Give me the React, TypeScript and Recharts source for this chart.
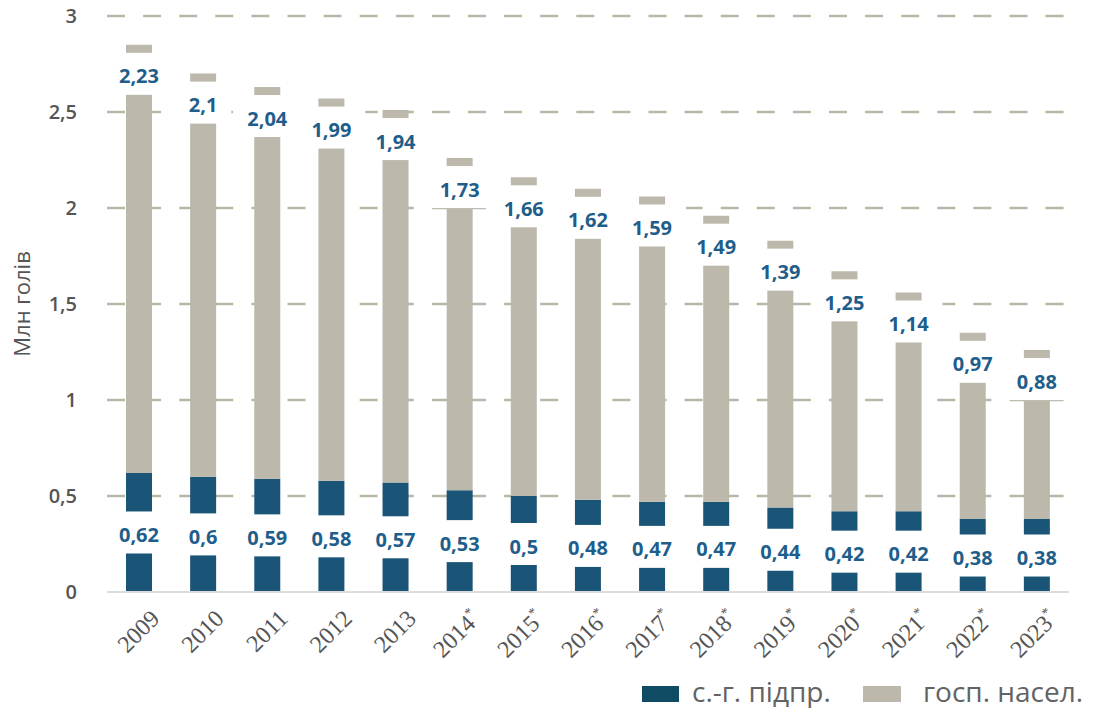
import React from 'react';
import { BarChart, Bar, XAxis, YAxis, CartesianGrid, LabelList, Label } from 'recharts';

const years = ['2009', '2010', '2011', '2012', '2013', '2014', '2015', '2016', '2017', '2018', '2019', '2020', '2021', '2022', '2023'];
const starred = [false, false, false, false, false, true, true, true, true, true, true, true, true, true, true];
const enterprises = [0.62, 0.6, 0.59, 0.58, 0.57, 0.53, 0.5, 0.48, 0.47, 0.47, 0.44, 0.42, 0.42, 0.38, 0.38];
const households = [2.23, 2.1, 2.04, 1.99, 1.94, 1.73, 1.66, 1.62, 1.59, 1.49, 1.39, 1.25, 1.14, 0.97, 0.88];
const yTicks = [0, 0.5, 1, 1.5, 2, 2.5, 3];

const data = years.map((y, i) => ({
  year: y,
  star: starred[i],
  ent: enterprises[i],
  hh: households[i],
}));

const BLUE = '#1a5577';
const LEGEND_BLUE = '#0f4b63';
const GRAY = '#bcb8ab';
const GRID = '#b9b8a6';
const LABEL_BLUE = '#1f5e8a';
const FONT = '"Open Sans", "Noto Sans", sans-serif';
const SERIF = '"Liberation Serif", "DejaVu Serif", serif';

const fmt = (v: number) => String(v).replace('.', ',');
const textWidth = (s: string) => {
  let w = 0;
  for (const c of s) w += c === ',' ? 5.6 : 11.4;
  return w;
};

const ValueBox = ({ cx, cy, text }: { cx: number; cy: number; text: string }) => {
  const w = textWidth(text) + 28;
  const h = 42;
  return (
    <g>
      <rect x={cx - w / 2} y={cy - h / 2} width={w} height={h} fill="#ffffff" />
      <text
        x={cx}
        y={cy + 2}
        textAnchor="middle"
        dominantBaseline="central"
        fontFamily={FONT}
        fontWeight={700}
        fontSize={20}
        fill={LABEL_BLUE}
        stroke="#ffffff"
        strokeWidth={1}
        paintOrder="stroke"
      >
        {text}
      </text>
    </g>
  );
};

const EntLabel = (props: any) => {
  const { x, y, width, height, value } = props;
  const cx = Number(x) + Number(width) / 2;
  const cy = Number(y) + Number(height) / 2;
  return <ValueBox cx={cx} cy={cy} text={fmt(value)} />;
};

const HhLabel = (props: any) => {
  const { x, y, width, value } = props;
  const cx = Number(x) + Number(width) / 2;
  const cy = Number(y) + 8 + 21;
  return <ValueBox cx={cx} cy={cy} text={fmt(value)} />;
};

const XTick = (props: any) => {
  const { x, y, payload, index } = props;
  const star = starred[index] ?? false;
  return (
    <g transform={`translate(${x + 22},${y + 20})`}>
      <text
        textAnchor="end"
        transform="rotate(-45)"
        fontFamily={SERIF}
        fontSize={24}
        fill="#555555"
      >
        {payload.value}
        {star ? (
          <tspan fontSize={14} dy={-10}>
            *
          </tspan>
        ) : null}
      </text>
    </g>
  );
};

const YTick = (props: any) => {
  const { x, y, payload } = props;
  return (
    <text
      x={x}
      y={y}
      dy="0.36em"
      textAnchor="end"
      fontFamily={FONT}
      fontWeight={600}
      fontSize={20}
      fill="#555555"
    >
      {fmt(payload.value)}
    </text>
  );
};

export default function App() {
  return (
    <div style={{ position: 'absolute', left: 0, top: 0, width: 1098, height: 708, background: '#fff' }}>
      <BarChart
        width={1098}
        height={708}
        data={data}
        margin={{ top: 16, right: 29, left: 0, bottom: 0 }}
      >
        <CartesianGrid
          vertical={false}
          horizontalValues={[0.5, 1, 1.5, 2, 2.5, 3]}
          stroke={GRID}
          strokeWidth={2.5}
          strokeDasharray="18 18.1"
        />
        <XAxis
          dataKey="year"
          height={116}
          interval={0}
          axisLine={{ stroke: '#dcdcdc', strokeWidth: 2 }}
          tickLine={false}
          tick={<XTick />}
        />
        <YAxis
          width={107}
          domain={[0, 3]}
          ticks={yTicks}
          axisLine={false}
          tickLine={false}
          tickSize={0}
          tickMargin={30}
          tick={<YTick />}
        >
          <Label
            value="Млн голів"
            angle={-90}
            position="insideLeft"
            offset={22}
            style={{ fontFamily: FONT, fontSize: 22, fill: '#555555', textAnchor: 'middle' }}
          />
        </YAxis>
        <Bar dataKey="ent" stackId="a" fill={BLUE} barSize={26} isAnimationActive={false}>
          <LabelList dataKey="ent" content={<EntLabel />} />
        </Bar>
        <Bar dataKey="hh" stackId="a" fill={GRAY} barSize={26} isAnimationActive={false}>
          <LabelList dataKey="hh" content={<HhLabel />} />
        </Bar>
      </BarChart>
      <div style={{ position: 'absolute', left: 642, top: 686, width: 37, height: 16, background: LEGEND_BLUE }} />
      <div
        style={{
          position: 'absolute',
          left: 692,
          top: 672,
          fontFamily: FONT,
          fontSize: 28,
          lineHeight: '38px',
          color: '#636363',
          whiteSpace: 'nowrap',
        }}
      >
        с.-г. підпр.
      </div>
      <div style={{ position: 'absolute', left: 863, top: 686, width: 38, height: 16, background: GRAY }} />
      <div
        style={{
          position: 'absolute',
          left: 923,
          top: 672,
          fontFamily: FONT,
          fontSize: 28,
          lineHeight: '38px',
          color: '#636363',
          whiteSpace: 'nowrap',
        }}
      >
        госп. насел.
      </div>
    </div>
  );
}
